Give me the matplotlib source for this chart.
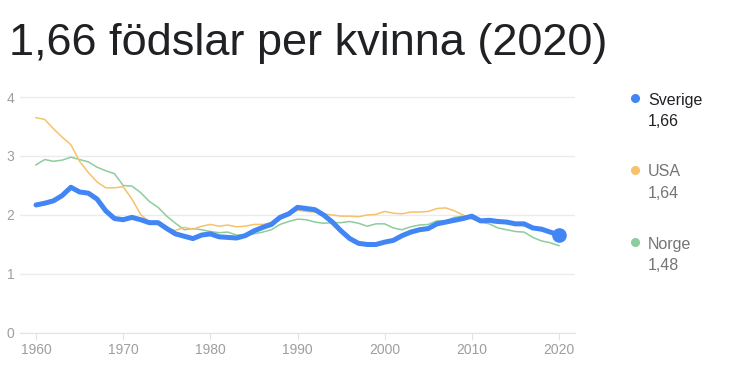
import matplotlib.pyplot as plt
from matplotlib.lines import Line2D
import numpy as np

plt.rcParams["font.family"] = ["Liberation Sans", "DejaVu Sans"]

years = np.arange(1960, 2021)

sverige = [2.17, 2.20, 2.24, 2.33, 2.47, 2.39, 2.37, 2.27, 2.07, 1.94,
           1.92, 1.96, 1.92, 1.87, 1.87, 1.77, 1.68, 1.64, 1.60, 1.66,
           1.68, 1.63, 1.62, 1.61, 1.65, 1.73, 1.79, 1.84, 1.96, 2.02,
           2.13, 2.11, 2.09, 2.00, 1.88, 1.73, 1.60, 1.52, 1.50, 1.50,
           1.54, 1.57, 1.65, 1.71, 1.75, 1.77, 1.85, 1.88, 1.91, 1.94,
           1.98, 1.90, 1.91, 1.89, 1.88, 1.85, 1.85, 1.78, 1.76, 1.71,
           1.66]

usa = [3.65, 3.62, 3.46, 3.32, 3.19, 2.91, 2.72, 2.56, 2.46, 2.46,
       2.48, 2.27, 2.01, 1.88, 1.84, 1.77, 1.74, 1.79, 1.76, 1.81,
       1.84, 1.81, 1.83, 1.80, 1.81, 1.84, 1.84, 1.87, 1.93, 2.01,
       2.08, 2.06, 2.05, 2.02, 2.00, 1.98, 1.98, 1.97, 2.00, 2.01,
       2.06, 2.03, 2.02, 2.05, 2.05, 2.06, 2.11, 2.12, 2.07, 2.00,
       1.93, 1.89, 1.88, 1.86, 1.86, 1.84, 1.82, 1.77, 1.73, 1.71,
       1.64]

norge = [2.85, 2.94, 2.91, 2.93, 2.98, 2.94, 2.90, 2.81, 2.75, 2.70,
         2.50, 2.49, 2.38, 2.23, 2.13, 1.98, 1.86, 1.75, 1.77, 1.75,
         1.72, 1.70, 1.71, 1.66, 1.66, 1.68, 1.71, 1.75, 1.84, 1.89,
         1.93, 1.92, 1.88, 1.86, 1.87, 1.87, 1.89, 1.86, 1.81, 1.85,
         1.85, 1.78, 1.75, 1.80, 1.83, 1.84, 1.90, 1.90, 1.96, 1.98,
         1.95, 1.88, 1.85, 1.78, 1.75, 1.72, 1.71, 1.62, 1.56, 1.53,
         1.48]

names = ["Sverige", "USA", "Norge"]
latest = ["1,66", "1,64", "1,48"]
colors = ["#4285F4", "#F6C26B", "#8DCC9D"]
x_ticks = [1960, 1970, 1980, 1990, 2000, 2010, 2020]
y_ticks = [0, 1, 2, 3, 4]

W, H = 732, 376
fig = plt.figure(figsize=(W / 100, H / 100), dpi=100)
ax = fig.add_axes([20 / W, 0.1144, 555 / W, 0.7734 - 0.1144])

ax.plot(years, norge, color=colors[2], linewidth=1.1, zorder=2)
ax.plot(years, usa, color=colors[1], linewidth=1.1, zorder=2)
ax.plot(years, sverige, color=colors[0], linewidth=3.6, zorder=3,
        solid_joinstyle="round", solid_capstyle="round")
ax.plot(years[-1:], sverige[-1:], "o", color=colors[0], markersize=9.5, zorder=4)

ax.set_xlim(1958.16, 2021.84)
ax.set_ylim(0, 4.2)
ax.set_xticks(x_ticks)
ax.set_yticks(y_ticks)
ax.grid(axis="y", color="#ebebeb", linewidth=1)
ax.set_axisbelow(True)
for side in ["top", "right", "left"]:
    ax.spines[side].set_visible(False)
ax.spines["bottom"].set_color("#e3e3e3")
ax.tick_params(axis="x", length=5, color="#e3e3e3", labelsize=10, labelcolor="#9e9e9e", pad=2)
ax.tick_params(axis="y", length=0, labelsize=10, labelcolor="#9e9e9e", pad=4)

fig.text(9 / W, 1 - 44 / H, "1,66 födslar per kvinna (2020)", fontsize=32.5,
         color="#202124", va="center", ha="left")

legend_y = [100, 172, 244]
text_colors = ["#202124", "#757575", "#757575"]
for name, val, col, tcol, y in zip(names, latest, colors, text_colors, legend_y):
    fig.add_artist(Line2D([635 / W], [1 - (y - 2) / H], marker="o", markersize=5.5,
                          color=col, transform=fig.transFigure))
    fig.text(648 / W, 1 - y / H, name, fontsize=11.5, color=tcol, va="center", ha="left")
    fig.text(648 / W, 1 - (y + 21) / H, val, fontsize=11.5, color=tcol, va="center", ha="left")

fig.savefig("out.png", dpi=100, facecolor="white")
